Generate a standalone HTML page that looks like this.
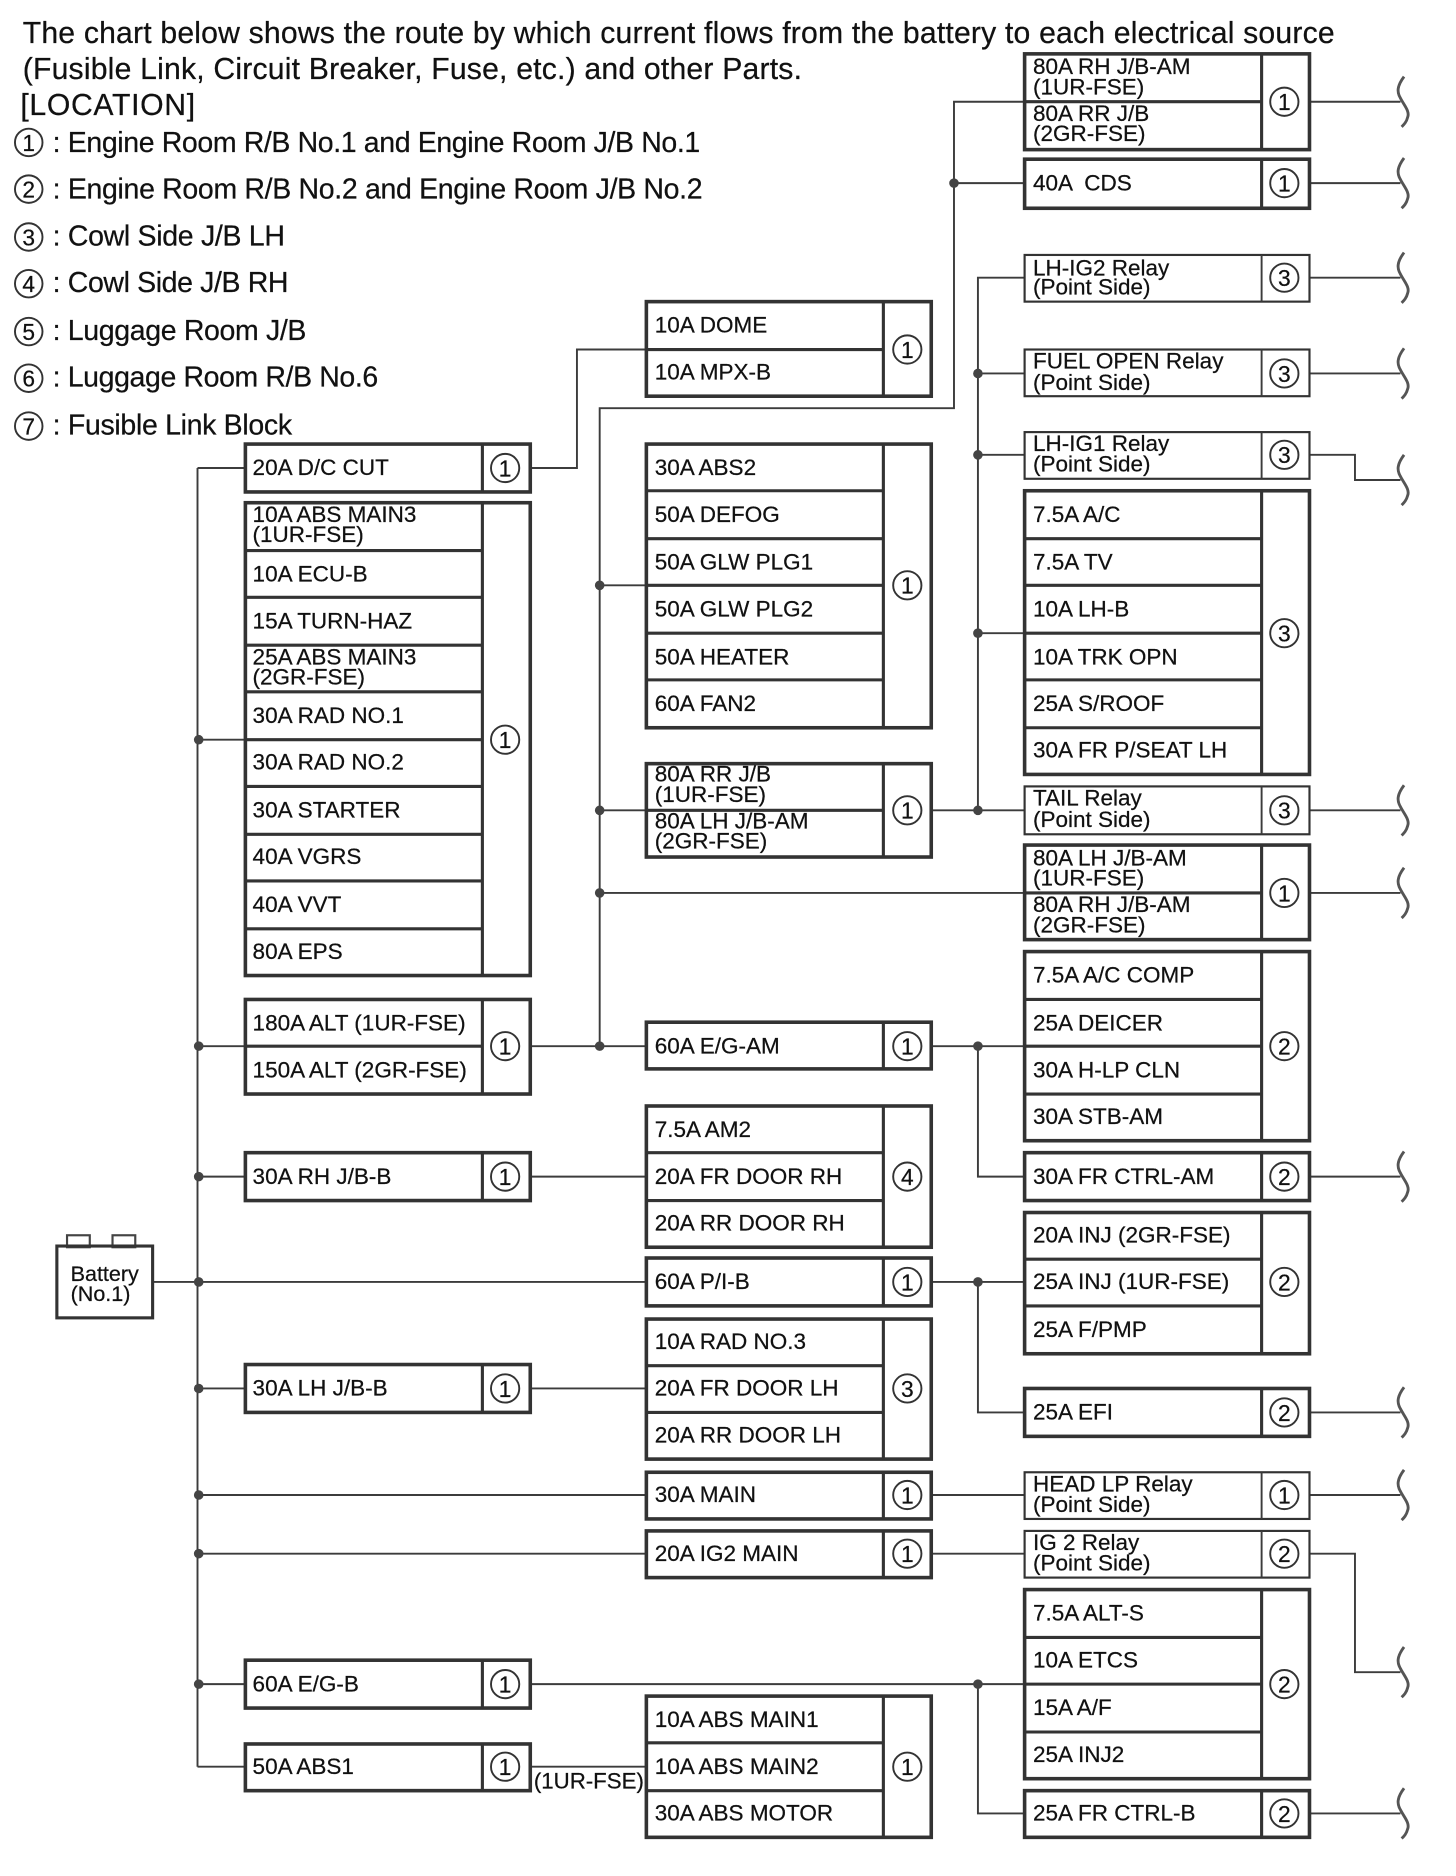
<!DOCTYPE html>
<html><head><meta charset="utf-8"><style>
html,body{margin:0;padding:0;background:#fff}
svg{display:block;position:absolute;left:0;top:0}
text{font-family:"Liberation Sans",sans-serif;fill:#111;stroke:#111;stroke-width:.2}
.t{font-size:18.8px;transform:translateY(-1px)}
.h{font-size:25.2px}
.l{font-size:23.8px}
.n{font-size:19px;text-anchor:middle}
.b{fill:#fff;stroke:#333;stroke-width:3}
.f{fill:none;stroke:#333;stroke-width:2.6}
.w{fill:none;stroke:#3c3c3c;stroke-width:1.6}
.c{fill:#fff;stroke:#333;stroke-width:1.6}
.d{fill:#444}
.k{fill:none;stroke:#555;stroke-width:2.4}
</style></head><body>
<svg width="1456" height="1876" viewBox="0 0 1216.4 1567.3" xmlns="http://www.w3.org/2000/svg">
<rect width="1216.4" height="1567.3" fill="#fff"/>
<defs><path id="k" class="k" d="M1173 -21C1167 -13 1167 -8 1170 -3C1173 3 1178 8 1176 13C1175 17 1173 19 1171 21"/></defs>

<text class="h" x="19" y="36" textLength="1096">The chart below shows the route by which current flows from the battery to each electrical source</text>
<text class="h" x="19" y="66" textLength="651">(Fusible Link, Circuit Breaker, Fuse, etc.) and other Parts.</text>
<text class="h" x="17" y="96" textLength="146">[LOCATION]</text>

<g class="c"><circle cx="24" cy="119" r="11.5"/><circle cx="24" cy="158" r="11.5"/><circle cx="24" cy="198" r="11.5"/><circle cx="24" cy="237" r="11.5"/><circle cx="24" cy="277" r="11.5"/><circle cx="24" cy="316" r="11.5"/><circle cx="24" cy="356" r="11.5"/></g>
<text class="n" x="24" y="126">1</text><text class="n" x="24" y="165">2</text><text class="n" x="24" y="205">3</text><text class="n" x="24" y="244">4</text><text class="n" x="24" y="284">5</text><text class="n" x="24" y="323">6</text><text class="n" x="24" y="363">7</text>
<text class="l" x="44" y="127" textLength="541">: Engine Room R/B No.1 and Engine Room J/B No.1</text>
<text class="l" x="44" y="166" textLength="543">: Engine Room R/B No.2 and Engine Room J/B No.2</text>
<text class="l" x="44" y="205" textLength="194">: Cowl Side J/B LH</text>
<text class="l" x="44" y="244" textLength="197">: Cowl Side J/B RH</text>
<text class="l" x="44" y="284" textLength="212">: Luggage Room J/B</text>
<text class="l" x="44" y="323" textLength="272">: Luggage Room R/B No.6</text>
<text class="l" x="44" y="363" textLength="200">: Fusible Link Block</text>

<!-- wires -->
<path class="w" d="M128 1071H540M165 391V1476M165 391H205M165 618H205M165 874H205M165 983H205M165 1160H205M165 1407H205M165 1476H205M165 1249H540M165 1298H540"/>
<path class="w" d="M443 391H482V292H540M443 874H540M501 874V341H797V85H856M797 153H856M501 489H540M501 677H540M501 746H856"/>
<path class="w" d="M778 874H856M817 874V983H856M778 677H856M817 677V232H856M817 312H856M817 380H856M817 529H856"/>
<path class="w" d="M443 983H540M443 1160H540M778 1071H856M817 1071V1180H856M778 1249H856M778 1298H856M443 1407H856M817 1407V1515H856M443 1476H540"/>
<path class="w" d="M1094 85H1170M1094 153H1170M1094 232H1170M1094 312H1170M1094 380H1132V401H1170M1094 677H1170M1094 746H1170M1094 983H1170M1094 1180H1170M1094 1249H1170M1094 1298H1132V1397H1170M1094 1515H1170"/>
<g class="d"><circle cx="166" cy="618" r="4"/><circle cx="166" cy="874" r="4"/><circle cx="166" cy="983" r="4"/><circle cx="166" cy="1071" r="4"/><circle cx="166" cy="1160" r="4"/><circle cx="166" cy="1249" r="4"/><circle cx="166" cy="1298" r="4"/><circle cx="166" cy="1407" r="4"/>
<circle cx="501" cy="489" r="4"/><circle cx="501" cy="677" r="4"/><circle cx="501" cy="746" r="4"/><circle cx="501" cy="874" r="4"/><circle cx="797" cy="153" r="4"/>
<circle cx="817" cy="312" r="4"/><circle cx="817" cy="380" r="4"/><circle cx="817" cy="529" r="4"/><circle cx="817" cy="677" r="4"/><circle cx="817" cy="874" r="4"/><circle cx="817" cy="1071" r="4"/><circle cx="817" cy="1407" r="4"/></g>
<use href="#k" y="85"/><use href="#k" y="153"/><use href="#k" y="232"/><use href="#k" y="312"/><use href="#k" y="401"/><use href="#k" y="677"/><use href="#k" y="746"/><use href="#k" y="983"/><use href="#k" y="1180"/><use href="#k" y="1249"/><use href="#k" y="1397"/><use href="#k" y="1515"/>

<!-- battery -->
<rect x="56" y="1032" width="19" height="10" fill="#fff" stroke="#444" stroke-width="1.8"/><rect x="94" y="1032" width="19" height="10" fill="#fff" stroke="#444" stroke-width="1.8"/>
<rect class="f" x="47.5" y="1041" width="80" height="60"/>
<text x="59" y="1070" style="font-size:18px">Battery</text><text x="59" y="1087" style="font-size:18px">(No.1)</text>

<!-- left col boxes -->
<rect class="b" x="205" y="371" width="238" height="40"/>
<rect class="b" x="205" y="420" width="238" height="395"/>
<rect class="b" x="205" y="835" width="238" height="79"/>
<rect class="b" x="205" y="963" width="238" height="40"/>
<rect class="b" x="205" y="1140" width="238" height="40"/>
<rect class="b" x="205" y="1387" width="238" height="40"/>
<rect class="b" x="205" y="1457" width="238" height="39"/>
<path class="f" d="M403 371V411M403 420V815M403 835V914M403 963V1003M403 1140V1180M403 1387V1427M403 1457V1496"/>
<path class="f" d="M205 460H403M205 499H403M205 539H403M205 578H403M205 618H403M205 657H403M205 697H403M205 736H403M205 776H403M205 874H403"/>
<text class="t" x="211" y="398">20A D/C CUT</text>
<text class="t" x="211" y="437">10A ABS MAIN3</text><text class="t" x="211" y="454">(1UR-FSE)</text>
<text class="t" x="211" y="487">10A ECU-B</text>
<text class="t" x="211" y="526">15A TURN-HAZ</text>
<text class="t" x="211" y="556">25A ABS MAIN3</text><text class="t" x="211" y="573">(2GR-FSE)</text>
<text class="t" x="211" y="605">30A RAD NO.1</text>
<text class="t" x="211" y="644">30A RAD NO.2</text>
<text class="t" x="211" y="684">30A STARTER</text>
<text class="t" x="211" y="723">40A VGRS</text>
<text class="t" x="211" y="763">40A VVT</text>
<text class="t" x="211" y="802">80A EPS</text>
<text class="t" x="211" y="862">180A ALT (1UR-FSE)</text>
<text class="t" x="211" y="901">150A ALT (2GR-FSE)</text>
<text class="t" x="211" y="990">30A RH J/B-B</text>
<text class="t" x="211" y="1167">30A LH J/B-B</text>
<text class="t" x="211" y="1414">60A E/G-B</text>
<text class="t" x="211" y="1483">50A ABS1</text>
<text x="446" y="1494" style="font-size:18.6px">(1UR-FSE)</text>

<g class="c"><circle cx="422" cy="391" r="11.8"/><circle cx="422" cy="618" r="11.8"/><circle cx="422" cy="874" r="11.8"/><circle cx="422" cy="983" r="11.8"/><circle cx="422" cy="1160" r="11.8"/><circle cx="422" cy="1407" r="11.8"/><circle cx="422" cy="1476" r="11.8"/></g>
<text class="n" x="422" y="398">1</text><text class="n" x="422" y="625">1</text><text class="n" x="422" y="881">1</text><text class="n" x="422" y="990">1</text><text class="n" x="422" y="1167">1</text><text class="n" x="422" y="1414">1</text><text class="n" x="422" y="1483">1</text>

<!-- mid col boxes -->
<rect class="b" x="540" y="252" width="238" height="79"/>
<rect class="b" x="540" y="371" width="238" height="237"/>
<rect class="b" x="540" y="638" width="238" height="78"/>
<rect class="b" x="540" y="854" width="238" height="39"/>
<rect class="b" x="540" y="924" width="238" height="118"/>
<rect class="b" x="540" y="1051" width="238" height="40"/>
<rect class="b" x="540" y="1102" width="238" height="117"/>
<rect class="b" x="540" y="1230" width="238" height="39"/>
<rect class="b" x="540" y="1279" width="238" height="39"/>
<rect class="b" x="540" y="1417" width="238" height="118"/>
<path class="f" d="M738 252V331M738 371V608M738 638V716M738 854V893M738 924V1042M738 1051V1091M738 1102V1219M738 1230V1269M738 1279V1318M738 1417V1535"/>
<path class="f" d="M540 292H738M540 410H738M540 450H738M540 489H738M540 529H738M540 568H738M540 677H738M540 963H738M540 1003H738M540 1141H738M540 1180H738M540 1456H738M540 1496H738"/>
<text class="t" x="547" y="279">10A DOME</text>
<text class="t" x="547" y="318">10A MPX-B</text>
<text class="t" x="547" y="398">30A ABS2</text>
<text class="t" x="547" y="437">50A DEFOG</text>
<text class="t" x="547" y="477">50A GLW PLG1</text>
<text class="t" x="547" y="516">50A GLW PLG2</text>
<text class="t" x="547" y="556">50A HEATER</text>
<text class="t" x="547" y="595">60A FAN2</text>
<text class="t" x="547" y="654">80A RR J/B</text><text class="t" x="547" y="671">(1UR-FSE)</text>
<text class="t" x="547" y="693">80A LH J/B-AM</text><text class="t" x="547" y="710">(2GR-FSE)</text>
<text class="t" x="547" y="881">60A E/G-AM</text>
<text class="t" x="547" y="951">7.5A AM2</text>
<text class="t" x="547" y="990">20A FR DOOR RH</text>
<text class="t" x="547" y="1029">20A RR DOOR RH</text>
<text class="t" x="547" y="1078">60A P/I-B</text>
<text class="t" x="547" y="1128">10A RAD NO.3</text>
<text class="t" x="547" y="1167">20A FR DOOR LH</text>
<text class="t" x="547" y="1206">20A RR DOOR LH</text>
<text class="t" x="547" y="1256">30A MAIN</text>
<text class="t" x="547" y="1305">20A IG2 MAIN</text>
<text class="t" x="547" y="1444">10A ABS MAIN1</text>
<text class="t" x="547" y="1483">10A ABS MAIN2</text>
<text class="t" x="547" y="1522">30A ABS MOTOR</text>

<g class="c"><circle cx="758" cy="292" r="11.8"/><circle cx="758" cy="489" r="11.8"/><circle cx="758" cy="677" r="11.8"/><circle cx="758" cy="874" r="11.8"/><circle cx="758" cy="983" r="11.8"/><circle cx="758" cy="1071" r="11.8"/><circle cx="758" cy="1160" r="11.8"/><circle cx="758" cy="1249" r="11.8"/><circle cx="758" cy="1298" r="11.8"/><circle cx="758" cy="1476" r="11.8"/></g>
<text class="n" x="758" y="299">1</text><text class="n" x="758" y="496">1</text><text class="n" x="758" y="684">1</text><text class="n" x="758" y="881">1</text><text class="n" x="758" y="990">4</text><text class="n" x="758" y="1078">1</text><text class="n" x="758" y="1167">3</text><text class="n" x="758" y="1256">1</text><text class="n" x="758" y="1305">1</text><text class="n" x="758" y="1483">1</text>

<!-- right col boxes -->
<rect class="b" x="856" y="45" width="238" height="80"/>
<rect class="b" x="856" y="133" width="238" height="41"/>
<rect class="b" x="856" y="213" width="238" height="39" style="stroke-width:1.8"/>
<rect class="b" x="856" y="292" width="238" height="39" style="stroke-width:1.8"/>
<rect class="b" x="856" y="361" width="238" height="39" style="stroke-width:1.8"/>
<rect class="b" x="856" y="410" width="238" height="237"/>
<rect class="b" x="856" y="657" width="238" height="40" style="stroke-width:1.8"/>
<rect class="b" x="856" y="706" width="238" height="79"/>
<rect class="b" x="856" y="795" width="238" height="158"/>
<rect class="b" x="856" y="963" width="238" height="40"/>
<rect class="b" x="856" y="1013" width="238" height="118"/>
<rect class="b" x="856" y="1160" width="238" height="40"/>
<rect class="b" x="856" y="1230" width="238" height="39" style="stroke-width:1.8"/>
<rect class="b" x="856" y="1279" width="238" height="39" style="stroke-width:1.8"/>
<rect class="b" x="856" y="1328" width="238" height="158"/>
<rect class="b" x="856" y="1496" width="238" height="39"/>
<path class="f" d="M1054 45V125M1054 133V174M1054 410V647M1054 706V785M1054 795V953M1054 963V1003M1054 1013V1131M1054 1160V1200M1054 1328V1486M1054 1496V1535"/>
<path class="w" d="M1054 213V252M1054 292V331M1054 361V400M1054 657V697M1054 1230V1269M1054 1279V1318"/>
<path class="f" d="M856 85H1054M856 450H1054M856 489H1054M856 529H1054M856 568H1054M856 608H1054M856 746H1054M856 835H1054M856 874H1054M856 914H1054M856 1052H1054M856 1091H1054M856 1368H1054M856 1407H1054M856 1447H1054"/>
<text class="t" x="863" y="63">80A RH J/B-AM</text><text class="t" x="863" y="80">(1UR-FSE)</text>
<text class="t" x="863" y="102">80A RR J/B</text><text class="t" x="863" y="119">(2GR-FSE)</text>
<text class="t" x="863" y="160" xml:space="preserve">40A  CDS</text>
<text class="t" x="863" y="231">LH-IG2 Relay</text><text class="t" x="863" y="247">(Point Side)</text>
<text class="t" x="863" y="309">FUEL OPEN Relay</text><text class="t" x="863" y="327">(Point Side)</text>
<text class="t" x="863" y="378">LH-IG1 Relay</text><text class="t" x="863" y="395">(Point Side)</text>
<text class="t" x="863" y="437">7.5A A/C</text>
<text class="t" x="863" y="477">7.5A TV</text>
<text class="t" x="863" y="516">10A LH-B</text>
<text class="t" x="863" y="556">10A TRK OPN</text>
<text class="t" x="863" y="595">25A S/ROOF</text>
<text class="t" x="863" y="634">30A FR P/SEAT LH</text>
<text class="t" x="863" y="674">TAIL Relay</text><text class="t" x="863" y="692">(Point Side)</text>
<text class="t" x="863" y="724">80A LH J/B-AM</text><text class="t" x="863" y="741">(1UR-FSE)</text>
<text class="t" x="863" y="763">80A RH J/B-AM</text><text class="t" x="863" y="780">(2GR-FSE)</text>
<text class="t" x="863" y="822">7.5A A/C COMP</text>
<text class="t" x="863" y="862">25A DEICER</text>
<text class="t" x="863" y="901">30A H-LP CLN</text>
<text class="t" x="863" y="940">30A STB-AM</text>
<text class="t" x="863" y="990">30A FR CTRL-AM</text>
<text class="t" x="863" y="1039">20A INJ (2GR-FSE)</text>
<text class="t" x="863" y="1078">25A INJ (1UR-FSE)</text>
<text class="t" x="863" y="1118">25A F/PMP</text>
<text class="t" x="863" y="1187">25A EFI</text>
<text class="t" x="863" y="1247">HEAD LP Relay</text><text class="t" x="863" y="1264">(Point Side)</text>
<text class="t" x="863" y="1296">IG 2 Relay</text><text class="t" x="863" y="1313">(Point Side)</text>
<text class="t" x="863" y="1355">7.5A ALT-S</text>
<text class="t" x="863" y="1394">10A ETCS</text>
<text class="t" x="863" y="1434">15A A/F</text>
<text class="t" x="863" y="1473">25A INJ2</text>
<text class="t" x="863" y="1522">25A FR CTRL-B</text>

<g class="c"><circle cx="1073" cy="85" r="11.8"/><circle cx="1073" cy="153" r="11.8"/><circle cx="1073" cy="232" r="11.8"/><circle cx="1073" cy="312" r="11.8"/><circle cx="1073" cy="380" r="11.8"/><circle cx="1073" cy="529" r="11.8"/><circle cx="1073" cy="677" r="11.8"/><circle cx="1073" cy="746" r="11.8"/><circle cx="1073" cy="874" r="11.8"/><circle cx="1073" cy="983" r="11.8"/><circle cx="1073" cy="1071" r="11.8"/><circle cx="1073" cy="1180" r="11.8"/><circle cx="1073" cy="1249" r="11.8"/><circle cx="1073" cy="1298" r="11.8"/><circle cx="1073" cy="1407" r="11.8"/><circle cx="1073" cy="1515" r="11.8"/></g>
<text class="n" x="1073" y="92">1</text><text class="n" x="1073" y="160">1</text><text class="n" x="1073" y="239">3</text><text class="n" x="1073" y="319">3</text><text class="n" x="1073" y="387">3</text><text class="n" x="1073" y="536">3</text><text class="n" x="1073" y="684">3</text><text class="n" x="1073" y="753">1</text><text class="n" x="1073" y="881">2</text><text class="n" x="1073" y="990">2</text><text class="n" x="1073" y="1078">2</text><text class="n" x="1073" y="1187">2</text><text class="n" x="1073" y="1256">1</text><text class="n" x="1073" y="1305">2</text><text class="n" x="1073" y="1414">2</text><text class="n" x="1073" y="1522">2</text>
</svg>
</body></html>
